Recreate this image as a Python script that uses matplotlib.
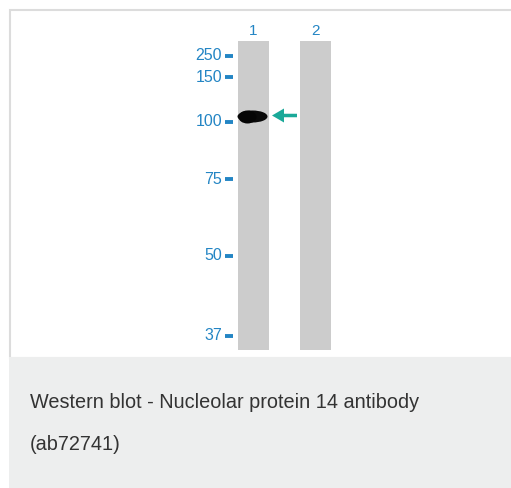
import matplotlib
matplotlib.use("Agg")
import matplotlib.pyplot as plt
from matplotlib.patches import Rectangle, Ellipse, FancyArrow

# marker ladder (kDa) and where each one ran on the blot (px from top)
marker_kda = ["250", "150", "100", "75", "50", "37"]
marker_pos = [56, 77, 122, 179, 256, 336]

lanes = ["1", "2"]
lane_x = [253.5, 315.5]

# detected band: lane 1, just above the 100 kDa marker
band_lane = 0
band_pos = 116.5

caption = ["Western blot - Nucleolar protein 14 antibody", "(ab72741)"]

blue = "#2385c4"
teal = "#1aa999"

plt.rcParams["font.family"] = ["Liberation Sans", "DejaVu Sans"]

fig = plt.figure(figsize=(5.11, 4.88), dpi=100)
ax = fig.add_axes([0, 0, 1, 1])
ax.set_xlim(0, 511)
ax.set_ylim(488, 0)
ax.axis("off")

# frame + caption panel
ax.add_patch(Rectangle((9.5, 9.5), 520, 348, facecolor="white", edgecolor="#dcdcdc", lw=1.5))
ax.add_patch(Rectangle((9, 357), 520, 140, facecolor="#edeeee", edgecolor="none"))

# lanes
lane_w = 31
for x, name in zip(lane_x, lanes):
    ax.add_patch(Rectangle((x - lane_w / 2, 41), lane_w, 309, facecolor="#cccccc", edgecolor="none"))
    ax.text(x, 31, name, color=blue, fontsize=11, ha="center", va="center")

# ladder
for lab, y in zip(marker_kda, marker_pos):
    ax.plot([225, 233], [y, y], color=blue, lw=2.8, solid_capstyle="butt")
    ax.text(222, y, lab, color=blue, fontsize=11.5, ha="right", va="center")

# band
bx = lane_x[band_lane]
ax.add_patch(Ellipse((bx - 1, band_pos), 30, 12, facecolor="#0a0a0a", edgecolor="none"))
ax.add_patch(Ellipse((bx - 6, band_pos + 0.5), 18, 13, facecolor="#050505", edgecolor="none"))

# arrow pointing at the band
ax.add_patch(FancyArrow(297, band_pos - 1, -25, 0, width=3.5, head_width=14, head_length=12,
                        length_includes_head=True, color=teal, lw=0))

ax.text(30, 402, caption[0], color="#333333", fontsize=14.3, ha="left", va="center")
ax.text(30, 445, caption[1], color="#333333", fontsize=14.3, ha="left", va="center")

fig.savefig("out.png", dpi=100)
